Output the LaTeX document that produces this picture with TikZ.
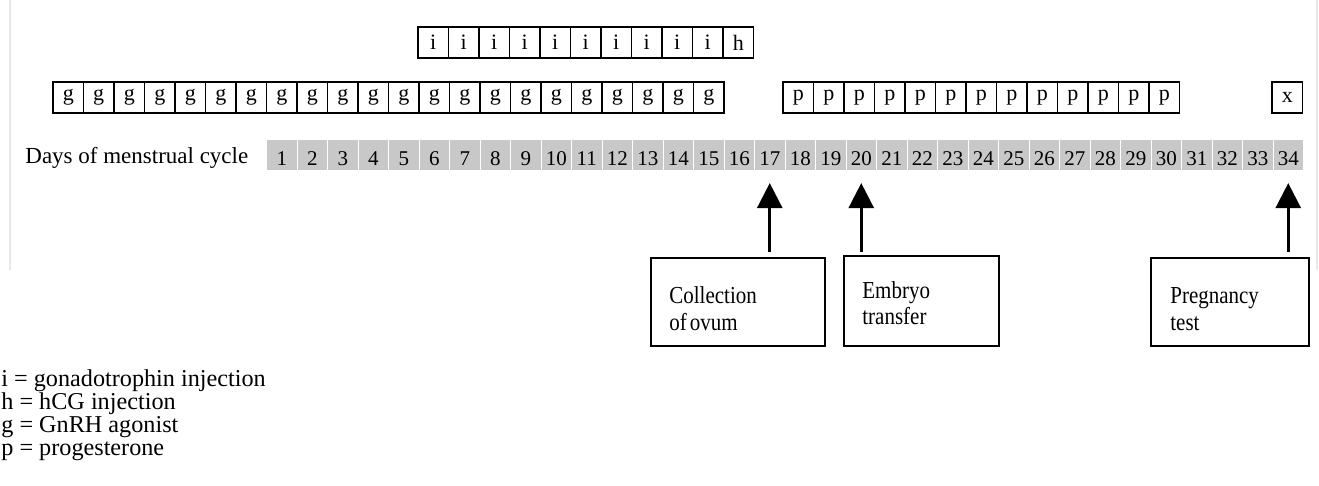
\documentclass[tikz,border=0pt]{standalone}
\usepackage{fontspec}
\setmainfont{Liberation Serif}
\newfontfamily\notefont[FakeStretch=0.86]{Liberation Serif}
\usetikzlibrary{arrows.meta}
\definecolor{daygray}{RGB}{200,200,200}
\definecolor{framegray}{RGB}{232,232,236}
\begin{document}
\begin{tikzpicture}[x=0.5pt,y=-0.5pt,
  dose/.style={draw, line width=0.6pt, minimum width=15.25pt, minimum height=15.5pt, inner sep=0pt, font=\fontsize{11}{12}\selectfont},
  daycell/.style={fill=daygray, minimum width=14.75pt, minimum height=15pt, inner sep=0pt, text height=11pt, text depth=0pt, font=\fontsize{10.5}{12}\selectfont},
  note/.style={draw, line width=0.9pt, anchor=north west, inner sep=0pt},
  notetext/.style={anchor=base west, inner sep=0pt, font=\notefont\fontsize{12.2}{14}\selectfont},
  arr/.style={-{Triangle[length=12.5pt,width=12.5pt]}, line width=1.3pt},
  legend/.style={anchor=base west, inner sep=0pt, font=\fontsize{12.1}{14}\selectfont},
  daylabel/.style={anchor=base west, inner sep=0pt, font=\fontsize{11.5}{13}\selectfont},
  frameline/.style={draw=framegray, line width=0.6pt}]
\useasboundingbox (0,0) rectangle (1319,486);
\fill[white] (0,0) rectangle (1319,486);
% faint frame of the original screenshot
\coordinate (fl1) at (10,0); \coordinate (fl2) at (10,270);
\coordinate (fr1) at (1317,0); \coordinate (fr2) at (1317,270);
\draw[frameline] (fl1) -- (fl2);
\draw[frameline] (fr1) -- (fr2);
% gonadotrophin / hCG row
\foreach \k in {1,...,10} \node[dose] (i\k) at ({418+30.5*(\k-0.5)},42.5) {i};
\node[dose] (h) at ({418+30.5*10.5},42.5) {h};
% GnRH agonist row
\foreach \k in {1,...,22} \node[dose] (g\k) at ({53+30.5*(\k-0.5)},97.5) {g};
% progesterone row
\foreach \k in {1,...,13} \node[dose] (p\k) at ({783+30.5*(\k-0.5)},97.5) {p};
\node[dose] (xt) at (1287.25,97.5) {x};
% days
\node[daylabel] (days) at (25,164) {Days of menstrual cycle};
\foreach \k in {1,...,34} \node[daycell] (d\k) at ({267+30.5*(\k-1)+14.75},155) {\k};
% event boxes
\node[note, minimum width=87pt, minimum height=44pt] (cb) at (650,257) {};
\node[notetext] (cb1) at (669,304) {Collection};
\node[notetext] (cb2) at (669,331) {of\hspace{0.12em}ovum};
\node[note, minimum width=77.5pt, minimum height=45pt] (eb) at (843,255) {};
\node[notetext] (eb1) at (862,299) {Embryo};
\node[notetext] (eb2) at (862,325) {transfer};
\node[note, minimum width=79pt, minimum height=44pt] (pb) at (1150,257) {};
\node[notetext] (pb1) at (1170,304) {Pregnancy};
\node[notetext] (pb2) at (1170,331) {test};
% arrows
\draw[arr, shorten <=2.65pt, shorten >=6.35pt] (d17.south |- cb.north) -- (d17.south);
\draw[arr, shorten <=1.65pt, shorten >=6.35pt] (d20.south |- eb.north) -- (d20.south);
\draw[arr, shorten <=2.65pt, shorten >=6.35pt] (d34.south |- pb.north) -- (d34.south);
% legend
\node[legend] (l1) at (1,387) {i = gonadotrophin injection};
\node[legend] (l2) at (1,410) {h = hCG injection};
\node[legend] (l3) at (1,433) {g = GnRH agonist};
\node[legend] (l4) at (1,456) {p = progesterone};
\end{tikzpicture}
\end{document}
